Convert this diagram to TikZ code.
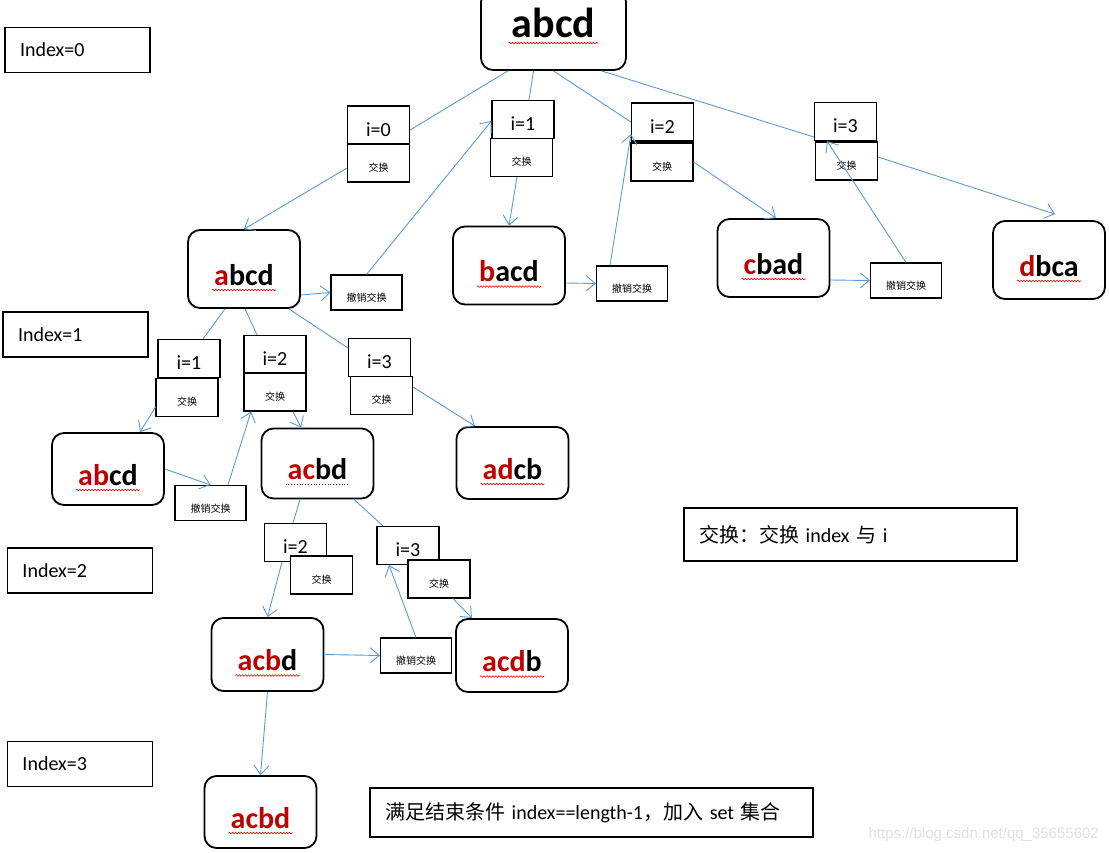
\documentclass[tikz,border=0pt]{standalone}
\usepackage{fontspec}
\setmainfont{Carlito}
\newfontfamily\cjk{Noto Sans CJK SC}
\newfontfamily\wmfont{Liberation Sans}
\usetikzlibrary{arrows.meta,decorations.pathmorphing}
\definecolor{dred}{HTML}{C00000}
\definecolor{linkblue}{HTML}{5B9BD5}
\newcommand{\rd}[1]{\textcolor{dred}{#1}}
\newcommand{\squig}[3][5]{\draw[squig] ([xshift=-#3pt,yshift=-#1pt]#2.base) -- ([xshift=#3pt,yshift=-#1pt]#2.base);}

\begin{document}
\begin{tikzpicture}[x=1pt, y=-1pt,
  >={Straight Barb[length=9pt,width=15pt]},
  state/.style={draw, line width=1.8pt, rounded corners=12pt, minimum width=112pt, minimum height=78pt,
    inner sep=0pt, text height=36pt, text depth=4pt, font=\fontsize{30}{36}\selectfont\bfseries},
  ibox/.style={draw, fill=white, line width=1.1pt, minimum width=62pt, minimum height=38pt, inner sep=0pt,
    text height=24pt, text depth=2pt, font=\fontsize{20}{24}\selectfont},
  swbox/.style={ibox, text height=18pt, font=\cjk\fontsize{10}{12}\selectfont},
  undobox/.style={ibox, minimum width=71pt, minimum height=35pt, text height=20pt, font=\cjk\fontsize{10}{12}\selectfont},
  idxbox/.style={draw, line width=1.1pt, minimum height=45pt, text width=115pt, align=left,
    inner xsep=15pt, inner ysep=0pt, font=\fontsize{20}{24}\selectfont},
  notebox/.style={draw, line width=1.1pt, align=left, inner xsep=15pt, inner ysep=0pt, font=\fontsize{20}{24}\selectfont},
  link/.style={draw=linkblue, line width=0.9pt},
  arr/.style={link, ->},
  squig/.style={draw=red, line width=0.6pt, decorate, decoration={snake, amplitude=0.8pt, segment length=3pt}}]

\useasboundingbox (0,0) rectangle (1109,852);

% Index labels on the left
\node[idxbox] (idx0) at (77.5,50) {Index=0};
\node[idxbox] (idx1) at (75.5,334.5) {Index=1};
\node[idxbox] (idx2) at (80,570.5) {Index=2};
\node[idxbox] (idx3) at (80,764) {Index=3};

% Root string
\node[state, minimum width=145pt, minimum height=80pt, text height=30pt, text depth=16pt,
  font=\fontsize{42}{50}\selectfont\bfseries] (root) at (553.5,30) {abcd};
\squig[6]{root}{45}

% Level 1 strings
\node[state] (s1a) at (244,269) {\rd{a}bcd};
\node[state] (s1b) at (509,265.5) {\rd{b}acd};
\node[state] (s1c) at (773.5,258) {\rd{c}bad};
\node[state] (s1d) at (1049,260) {\rd{d}bca};
\squig{s1a}{32}
\squig{s1b}{32}
\squig{s1c}{32}
\squig{s1d}{32}

% Level 2 strings
\node[state, minimum height=72pt] (s2a) at (108,469) {\rd{ab}cd};
\node[state, minimum height=70pt] (s2b) at (317.5,463.5) {\rd{ac}bd};
\node[state, minimum height=72pt] (s2c) at (512.5,463) {\rd{ad}cb};
\squig{s2a}{32}
\draw[dred, dotted, line width=0.8pt] ([xshift=-32pt,yshift=-5pt]s2b.base) -- ([xshift=32pt,yshift=-5pt]s2b.base);
\squig{s2c}{32}

% Level 3 strings
\node[state, minimum height=73pt] (s3a) at (267.5,654.5) {\rd{acb}d};
\node[state, minimum height=73pt] (s3b) at (512,655.5) {\rd{acd}b};
\squig{s3a}{32}
\squig{s3b}{32}

% Result
\node[state, minimum height=72pt] (s4) at (260.5,812) {\rd{acbd}};
\squig{s4}{32}

% i = ... boxes, index 0
\node[ibox] (i0) at (378.5,125) {i=0};
\node[swbox] (sw0) at (378.5,163) {交换};
\node[ibox] (i1) at (523,119.5) {i=1};
\node[swbox] (sw1) at (521.5,157.5) {交换};
\node[ibox] (i2) at (662.5,122) {i=2};
\node[swbox] (sw2) at (662,162) {交换};
\node[ibox] (i3) at (845.5,121.5) {i=3};
\node[swbox] (sw3) at (846.5,161) {交换};
\node[undobox] (un1) at (366.5,292.5) {撤销交换};
\node[undobox] (un2) at (632,283.5) {撤销交换};
\node[undobox] (un3) at (906,280.5) {撤销交换};

% i = ... boxes, index 1
\node[ibox] (j1) at (189,358.5) {i=1};
\node[swbox] (tw1) at (187,397.5) {交换};
\node[ibox] (j2) at (275,354.5) {i=2};
\node[swbox] (tw2) at (275,392) {交换};
\node[ibox] (j3) at (379.5,357.5) {i=3};
\node[swbox] (tw3) at (381.5,395.5) {交换};
\node[undobox] (un4) at (210.5,503) {撤销交换};

% i = ... boxes, index 2
\node[ibox] (k2) at (295.5,542.5) {i=2};
\node[swbox] (vw2) at (321.5,575) {交换};
\node[ibox] (k3) at (408,545.5) {i=3};
\node[swbox] (vw3) at (439,579) {交换};
\node[undobox] (un5) at (416,655.5) {撤销交换};

% Notes
\node[notebox, text width=303pt, minimum height=53pt] (note1) at (850.5,534.5) {{\cjk 交换：交换} index {\cjk 与} i};
\node[notebox, text width=413pt, minimum height=49pt] (note2) at (591.5,812.5)
  {{\cjk 满足结束条件} index==length-1{\cjk ，加入} set {\cjk 集合}};

% Links, index 0
\draw[link] ([xshift=-45.5pt]root.south) -- ([yshift=-5pt]i0.east);
\draw[link] ([xshift=-20pt]root.south) -- ([xshift=6pt]i1.north);
\draw[link] (root.south) -- (i2.west);
\draw[link] ([xshift=48pt]root.south) -- ([yshift=-15.5pt]i3.west);
\draw[arr] ([yshift=-5pt]sw0.west) -- (s1a.north);
\draw[arr] ([xshift=-4.5pt]sw1.south) -- (s1b.north);
\draw[arr] (sw2.east) -- ([xshift=2.5pt]s1c.north);
\draw[arr] ([yshift=4pt]sw3.east) -- ([xshift=6pt,yshift=6pt]s1d.north);
\draw[arr] ([yshift=-26pt]s1a.east) -- (un1.west);
\draw[arr] (un1.north) -- ([yshift=-1.5pt]i1.west);
\draw[arr] ([yshift=-17.5pt]s1b.east) -- (un2.west);
\draw[arr] ([xshift=-22pt]un2.north) -- ([yshift=-12pt]i2.west);
\draw[arr] ([yshift=-22pt]s1c.east) -- (un3.west);
\draw[arr] (un3.north) -- ([xshift=-18.5pt]i3.south);

% Links, index 1
\draw[link] ([xshift=-19pt]s1a.south) -- ([xshift=14pt]j1.north);
\draw[link] ([xshift=1pt]s1a.south) -- ([xshift=-18pt]j2.north);
\draw[link] ([xshift=45pt]s1a.south) -- ([yshift=9.5pt]j3.west);
\draw[arr] ([yshift=-9.5pt]tw1.west) -- ([xshift=32pt]s2a.north);
\draw[arr] ([xshift=18pt]tw2.south) -- ([xshift=-16.5pt]s2b.north);
\draw[arr] ([yshift=8.5pt]tw3.east) -- ([xshift=-37.5pt]s2c.north);
\draw[arr] (s2a.east) -- (un4.north);
\draw[arr] ([xshift=17.5pt]un4.north) -- ([xshift=-24pt]tw2.south);

% Links, index 2
\draw[link] ([xshift=-17.5pt]s2b.south) -- ([xshift=-2.5pt]k2.north);
\draw[link] ([xshift=36.5pt]s2b.south) -- ([xshift=-25pt]k3.north);
\draw[arr] ([xshift=-13.5pt]k2.south) -- (s3a.north);
\draw[arr] ([xshift=14pt]vw3.south) -- ([xshift=-40pt]s3b.north);
\draw[arr] (s3a.east) -- (un5.west);
\draw[arr] (un5.north) -- ([xshift=-19pt]k3.south);

% Index 3
\draw[arr] (s3a.south) -- (s4.north);

% Watermark
\node[anchor=base east, inner sep=0pt, text=black!12, font=\wmfont\fontsize{15}{18}\selectfont] (wm) at (1099,838) {https://blog.csdn.net/qq\_35655602};

\end{tikzpicture}
\end{document}
